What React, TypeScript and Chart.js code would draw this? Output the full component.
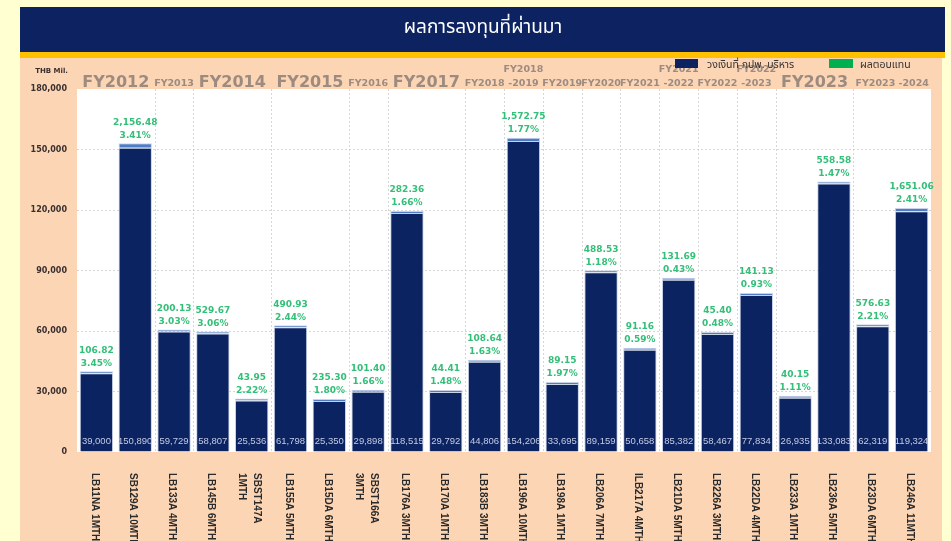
import React, { useEffect, useRef } from "react";
import { Chart, registerables } from "chart.js";

Chart.register(...registerables);

const titleText = "ผลการลงทุนที่ผ่านมา";
const legendLabels = ["วงเงินที่ กปพ. บริหาร", "ผลตอบแทน"];
const unitLabel = "THB Mil.";

const categories: string[][] = [
  ["LB11NA 1MTH"],
  ["SB129A 10MTH"],
  ["LB133A 4MTH"],
  ["LB145B 6MTH"],
  ["SBST147A", "1MTH"],
  ["LB155A 5MTH"],
  ["LB15DA 6MTH"],
  ["SBST166A", "3MTH"],
  ["LB176A 3MTH"],
  ["LB170A 1MTH"],
  ["LB183B 3MTH"],
  ["LB196A 10MTH"],
  ["LB198A 1MTH"],
  ["LB206A 7MTH"],
  ["ILB217A 4MTH"],
  ["LB21DA 5MTH"],
  ["LB226A 3MTH"],
  ["LB22DA 4MTH"],
  ["LB233A 1MTH"],
  ["LB236A 5MTH"],
  ["LB23DA 6MTH"],
  ["LB246A 11MTH"],
];

const amounts = [
  39000, 150890, 59729, 58807, 25536, 61798, 25350, 29898, 118515, 29792, 44806,
  154206, 33695, 89159, 50658, 85382, 58467, 77834, 26935, 133083, 62319, 119324,
];

const returns = [
  106.82, 2156.48, 200.13, 529.67, 43.95, 490.93, 235.3, 101.4, 282.36, 44.41, 108.64,
  1572.75, 89.15, 488.53, 91.16, 131.69, 45.4, 141.13, 40.15, 558.58, 576.63, 1651.06,
];

const returnPct = [
  3.45, 3.41, 3.03, 3.06, 2.22, 2.44, 1.8, 1.66, 1.66, 1.48, 1.63,
  1.77, 1.97, 1.18, 0.59, 0.43, 0.48, 0.93, 1.11, 1.47, 2.21, 2.41,
];

const fyLabels: string[][] = [
  ["FY2012"], ["FY2013"], ["FY2014"], ["FY2015"], ["FY2016"], ["FY2017"], ["FY2018"],
  ["FY2018", "-2019"], ["FY2019"], ["FY2020"], ["FY2021"], ["FY2021", "-2022"],
  ["FY2022"], ["FY2022", "-2023"], ["FY2023"], ["FY2023 -2024"],
];
const fyFirst = [0, 2, 3, 5, 7, 8, 10, 11, 12, 13, 14, 15, 16, 17, 18, 20];
const fyLast = [1, 2, 4, 6, 7, 9, 10, 11, 12, 13, 14, 15, 16, 17, 19, 21];
const fyBig = [true, false, true, true, false, true, false, false, false, false, false, false, false, false, true, false];

const yMin = 0;
const yMax = 180000;
const yStep = 30000;

const NAVY = "#0c2362";
const RET_BLUE = "#4f7cc6";
const GREEN_LEG = "#00b050";
const GREEN_TXT = "#33bf78";
const PEACH = "#fcd5b5";
const PAGE = "#ffffd2";
const FY_COLOR = "#9d8b80";

const fmt = (v: number, d = 0) =>
  v.toLocaleString("en-US", { minimumFractionDigits: d, maximumFractionDigits: d });

const decorPlugin = {
  id: "decor",
  beforeDraw(chart: any) {
    const { ctx, chartArea, scales } = chart;
    const x = scales.x;
    ctx.save();
    ctx.fillStyle = PAGE;
    ctx.fillRect(0, 0, chart.width, chart.height);
    ctx.fillStyle = "#0d2361";
    ctx.fillRect(20, 7, 925, 46);
    ctx.fillStyle = "#ffc000";
    ctx.fillRect(20, 52, 925, 6);
    ctx.fillStyle = PEACH;
    ctx.fillRect(20, 58, 922, chart.height - 58);
    ctx.fillStyle = "#ffffff";
    ctx.fillRect(chartArea.left, chartArea.top, chartArea.right - chartArea.left, chartArea.bottom - chartArea.top);
    // title
    ctx.fillStyle = "#ffffff";
    ctx.font = "19px 'Noto Sans Thai', 'Noto Sans', 'DejaVu Sans', sans-serif";
    ctx.textAlign = "center";
    ctx.textBaseline = "middle";
    ctx.fillText(titleText, 483, 29);
    // FY labels
    ctx.fillStyle = FY_COLOR;
    ctx.textBaseline = "alphabetic";
    fyLabels.forEach((lines, g) => {
      const cx = (x.getPixelForValue(fyFirst[g]) + x.getPixelForValue(fyLast[g])) / 2;
      if (fyBig[g]) {
        ctx.font = "bold 16px 'DejaVu Sans', sans-serif";
        ctx.fillText(lines[0], cx, 87);
      } else if (lines.length === 1) {
        ctx.font = "bold 9.5px 'DejaVu Sans', sans-serif";
        ctx.fillText(lines[0], cx, 86);
      } else {
        ctx.font = "bold 9.5px 'DejaVu Sans', sans-serif";
        ctx.fillText(lines[0], cx, 72);
        ctx.fillText(lines[1], cx, 86);
      }
    });
    // legend
    ctx.fillStyle = NAVY;
    ctx.fillRect(675, 59, 23, 9);
    ctx.fillStyle = GREEN_LEG;
    ctx.fillRect(829, 59, 24, 9);
    ctx.fillStyle = "#333333";
    ctx.font = "10.5px 'Noto Sans Thai', 'Noto Sans', 'DejaVu Sans', sans-serif";
    ctx.textAlign = "left";
    ctx.textBaseline = "alphabetic";
    ctx.fillText(legendLabels[0], 707, 68);
    ctx.fillText(legendLabels[1], 860, 68);
    // unit
    ctx.font = "bold 7px 'DejaVu Sans', sans-serif";
    ctx.fillStyle = "#3a3030";
    ctx.textAlign = "right";
    ctx.textBaseline = "middle";
    ctx.fillText(unitLabel, 68, 71);
    ctx.restore();
  },
  beforeDatasetsDraw(chart: any) {
    const { ctx, chartArea, scales } = chart;
    const x = scales.x;
    ctx.save();
    ctx.strokeStyle = "#d6d6d6";
    ctx.lineWidth = 1;
    ctx.setLineDash([2, 2]);
    fyFirst.forEach((i) => {
      if (i === 0) return;
      const bx = Math.round((x.getPixelForValue(i - 1) + x.getPixelForValue(i)) / 2) + 0.5;
      ctx.beginPath();
      ctx.moveTo(bx, chartArea.top);
      ctx.lineTo(bx, chartArea.bottom);
      ctx.stroke();
    });
    ctx.restore();
  },
  afterDatasetsDraw(chart: any) {
    const { ctx, chartArea, scales } = chart;
    const x = scales.x;
    const retMeta = chart.getDatasetMeta(1);
    ctx.save();
    ctx.fillStyle = "#c3cbe4";
    ctx.font = "9.5px 'Liberation Sans', sans-serif";
    ctx.textAlign = "center";
    ctx.textBaseline = "middle";
    amounts.forEach((v, i) => {
      ctx.fillText(fmt(v), x.getPixelForValue(i), chartArea.bottom - 11);
    });
    ctx.fillStyle = GREEN_TXT;
    ctx.font = "bold 9px 'DejaVu Sans', sans-serif";
    returns.forEach((r, i) => {
      const top = retMeta.data[i].y;
      const cx = x.getPixelForValue(i);
      ctx.fillText(fmt(r, 2), cx, top - 21);
      ctx.fillText(fmt(returnPct[i], 2) + "%", cx, top - 8);
    });
    ctx.fillStyle = "#2a2a2a";
    ctx.font = "bold 10px 'Liberation Sans', sans-serif";
    ctx.textAlign = "left";
    ctx.textBaseline = "middle";
    categories.forEach((lines, i) => {
      const cx = x.getPixelForValue(i) - 2;
      ctx.save();
      ctx.translate(cx, chartArea.bottom + 21);
      ctx.rotate(Math.PI / 2);
      const n = lines.length;
      lines.forEach((t, j) => {
        ctx.fillText(t, 0, (j - (n - 1) / 2) * 15);
      });
      ctx.restore();
    });
    ctx.restore();
  },
};

export default function App() {
  const ref = useRef<HTMLCanvasElement | null>(null);
  useEffect(() => {
    if (!ref.current) return;
    const chart = new Chart(ref.current, {
      type: "bar",
      data: {
        labels: categories.map((c) => c.join(" ")),
        datasets: [
          {
            label: legendLabels[0],
            data: amounts,
            backgroundColor: NAVY,
            borderColor: "#c9d3e8",
            borderWidth: 1,
            stack: "s",
            barPercentage: 0.86,
            categoryPercentage: 1,
          },
          {
            label: legendLabels[1],
            data: returns,
            backgroundColor: RET_BLUE,
            borderColor: "#c9d3e8",
            borderWidth: 1,
            minBarLength: 2,
            stack: "s",
            barPercentage: 0.86,
            categoryPercentage: 1,
          },
        ],
      },
      options: {
        responsive: false,
        animation: false,
        devicePixelRatio: 1,
        layout: { padding: { top: 89, right: 20, bottom: 0, left: 0 } },
        plugins: { legend: { display: false }, tooltip: { enabled: false } },
        scales: {
          x: {
            stacked: true,
            grid: { display: false },
            border: { display: false },
            ticks: { display: false },
            afterFit: (s: any) => {
              s.height = 89;
            },
          },
          y: {
            stacked: true,
            min: yMin,
            max: yMax,
            ticks: {
              stepSize: yStep,
              padding: 10,
              color: "#3a3030",
              font: { family: "'DejaVu Sans', sans-serif", weight: "bold", size: 8 },
              callback: (v: any) => fmt(Number(v)),
            },
            grid: {
              color: (c: any) => (c.tick && (c.tick.value === yMin || c.tick.value === yMax) ? "rgba(0,0,0,0)" : "#d6d6d6"),
              drawTicks: false,
            },
            border: { display: false, dash: [2, 2] },
            afterFit: (s: any) => {
              s.width = 77;
            },
          },
        },
      },
      plugins: [decorPlugin],
    } as any);
    return () => chart.destroy();
  }, []);
  return (
    <div style={{ position: "fixed", left: 0, top: 0, width: 951, height: 541, overflow: "hidden" }}>
      <canvas ref={ref} width={951} height={541} style={{ width: 951, height: 541, display: "block" }} />
    </div>
  );
}
